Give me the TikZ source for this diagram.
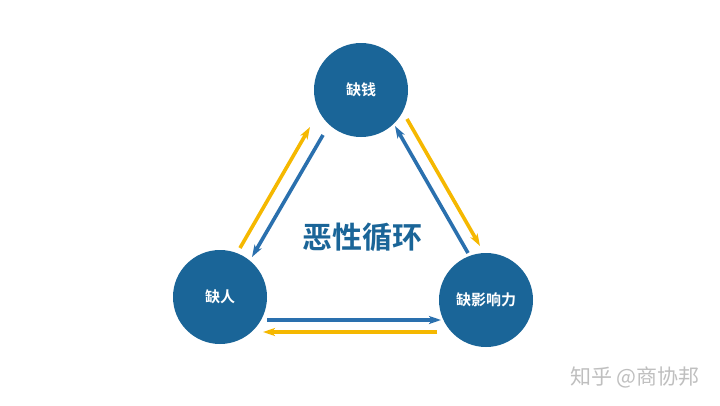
\documentclass[tikz,border=0pt]{standalone}
\usepackage{fontspec}
\newfontfamily\cjk{Noto Sans CJK SC}
\newfontfamily\cjkb{Noto Sans CJK SC Bold}
\usetikzlibrary{arrows.meta}
\definecolor{cblue}{HTML}{1A6598}
\definecolor{ablue}{HTML}{2A70AE}
\definecolor{ayel}{HTML}{F5B800}
\begin{document}
\begin{tikzpicture}[x=1pt,y=-1pt,
  circ/.style={circle,fill=cblue,minimum size=94pt,inner sep=0pt,text=white,font=\cjkb\fontsize{15}{17}\selectfont},
  arr/.style={line width=3.6pt,-{Stealth[length=12pt,width=8pt,inset=3pt]}},
  bluearr/.style={arr,draw=ablue},
  yelarr/.style={arr,draw=ayel}]
\useasboundingbox (0,0) rectangle (720,405);
\fill[white] (0,0) rectangle (720,405);
\node[circ] (top) at (361,90) {缺钱};
\node[circ] (left) at (220,297) {缺人};
\node[circ] (right) at (486,300) {缺影响力};
\node[font=\cjkb\fontsize{30}{34}\selectfont,text=cblue] (title) at (362,237) {恶性循环};
\node[font=\cjk\fontsize{21}{24}\selectfont,text=black!25] (wm) at (635,377) {知乎 @商协邦};
% left side
\coordinate (l1) at (240,248); \coordinate (t1) at (310,127);
\coordinate (t2) at (323,135); \coordinate (l2) at (252,257);
\draw[yelarr] (l1) -- (t1);
\draw[bluearr] (t2) -- (l2);
% right side
\coordinate (r1) at (468,253); \coordinate (t3) at (395,126);
\coordinate (t4) at (407,119); \coordinate (r2) at (480,246);
\draw[bluearr] (r1) -- (t3);
\draw[yelarr] (t4) -- (r2);
% bottom
\coordinate (l3) at (267,320); \coordinate (r3) at (441,320);
\coordinate (r4) at (437,332); \coordinate (l4) at (263,332);
\draw[bluearr] (l3) -- (r3);
\draw[yelarr] (r4) -- (l4);
\end{tikzpicture}
\end{document}
